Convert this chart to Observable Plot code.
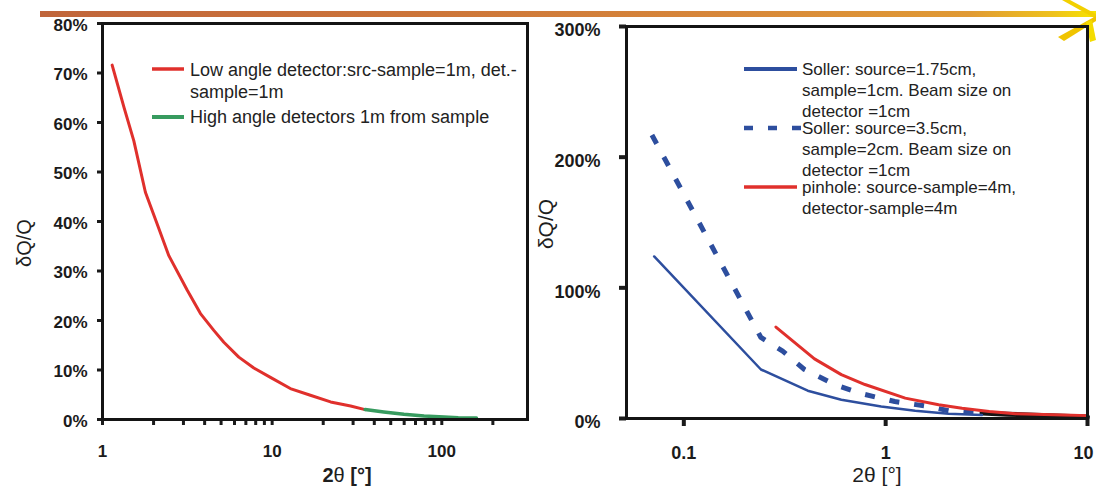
<!DOCTYPE html>
<html>
<head>
<meta charset="utf-8">
<script src="https://cdn.jsdelivr.net/npm/d3@7"></script>
<script src="https://cdn.jsdelivr.net/npm/@observablehq/plot@0.6"></script>
<style>
  html, body { margin: 0; padding: 0; background: #fff; }
  #page { position: relative; width: 1096px; height: 487px; overflow: hidden; background: #fff;
          font-family: "Liberation Sans", Arial, Helvetica, sans-serif; color: #1e1e1e; }
  .panel { position: absolute; top: 0; }
  .abs { position: absolute; white-space: nowrap; }
  .ytitle { transform: translate(-50%, -50%) rotate(-90deg); }
  .xtitle { transform: translate(-50%, -50%); line-height: 1.05; }
  .leg-text { position: absolute; white-space: nowrap; color: #222; }
  .leg-swatch { position: absolute; }
  #topbar { position: absolute; left: 40px; top: 11px; width: 1056px; height: 6px;
            background: linear-gradient(to right, #c0653b 0%, #cc7439 35%, #d7873a 65%, #e09a34 88%, #eec21c 96%, #f7e400 100%); }
</style>
</head>
<body>
<div id="page">
  <div id="topbar"></div>
  <svg class="abs" style="left:1052px;top:0" width="44" height="44" viewBox="0 0 44 44">
    <polygon points="10,0 18,0 44,14 44,19" fill="#f2d000"/>
    <polygon points="6,37 12,41 44,21 44,16" fill="#f0c400"/>
    <polygon points="34,22 40,20 44,40 38,42" fill="#f4dc00"/>
  </svg>
  <div id="left" class="panel" style="left:0"></div>
  <div id="right" class="panel" style="left:548px"></div>
</div>
<script>
// ---- Left panel: resolution of the 1 m instrument ----
const lowAngleTheta = [1.14, 1.34, 1.53, 1.79, 2.10, 2.46, 3.16, 3.78, 4.53, 5.19, 6.36, 7.80, 9.77, 12.8, 16.8, 22.1, 29.0, 35.3];
const lowAngleDQ    = [71.6, 63.0, 56.3, 45.9, 39.5, 33.1, 26.1, 21.4, 18.0, 15.6, 12.6, 10.4, 8.5, 6.25, 4.9, 3.55, 2.74, 2.0];
const highAngleTheta = [35.3, 45.5, 59.8, 78.6, 103, 125, 160];
const highAngleDQ    = [2.0, 1.53, 1.07, 0.73, 0.5, 0.35, 0.3];
const leftLegend = [
  ["Low angle detector:src-sample=1m, det.-", "sample=1m"],
  ["High angle detectors 1m from sample"]
];
const leftXTicks  = [1, 2, 3, 4, 5, 6, 7, 8, 9, 10, 20, 30, 40, 50, 60, 70, 80, 90, 100, 200];
const leftXLabels = [1, 10, 100];
const leftYTicks  = [0, 10, 20, 30, 40, 50, 60, 70, 80];

// ---- Right panel: small-angle resolution, Soller vs pinhole ----
const sollerTheta = [0.0713, 0.241, 0.411, 0.603, 0.95, 1.40, 2.05, 3.0];
const sollerDQ    = [124, 37.5, 21.3, 14.4, 9.2, 5.9, 3.6, 2.7];
const sollerWideTheta = [0.0695, 0.241, 0.309, 0.396, 0.559, 0.76, 1.11, 1.63, 2.05, 3.0];
const sollerWideDQ    = [217, 62, 51.5, 37.5, 26, 19, 13, 9.2, 5.9, 3.8];
const pinholeTheta = [0.286, 0.444, 0.603, 0.79, 1.25, 1.83, 2.39, 3.26, 4.4, 7.6, 10];
const pinholeDQ    = [70, 45.6, 33.6, 26, 15.6, 10.5, 7.9, 5.4, 3.6, 2.6, 2.2];
const tailTheta = [3.0, 4.0, 5.5, 7.5, 10];
const tailDQ    = [4.2, 3.3, 2.5, 1.8, 1.2];
const rightLegend = [
  ["Soller: source=1.75cm,", "sample=1cm. Beam size on", "detector =1cm"],
  ["Soller: source=3.5cm,", "sample=2cm. Beam size on", "detector =1cm"],
  ["pinhole: source-sample=4m,", "detector-sample=4m"]
];
const rightXTicks = [0.1, 1, 10];
const rightYTicks = [0, 100, 200, 300];

const RED = "#e0302c", GREEN = "#379b5f", BLUE = "#2d4e9e", INK = "#141414";
const FONT = '"Liberation Sans", Arial, Helvetica, sans-serif';

const rows = (xs, ys) => xs.map((x, i) => ({theta: x, dq: ys[i]}));
const pct = d => d + "%";
const blank = () => "";

const leftPlot = Plot.plot({
  width: 548, height: 487,
  marginLeft: 102, marginRight: 21, marginTop: 23, marginBottom: 68,
  style: {fontFamily: FONT, fontSize: "17px", fontWeight: "bold", color: "#1b1b1b", background: "transparent", overflow: "visible"},
  x: {type: "log", domain: [1, 320], label: null},
  y: {domain: [0, 80], label: null},
  marks: [
    Plot.axisX(leftXTicks, {tickSize: 6, strokeWidth: 3, tickFormat: blank, label: null}),
    Plot.axisX(leftXLabels, {tickSize: 0, tickPadding: 25, tickFormat: d => String(d), label: null}),
    Plot.axisY(leftYTicks, {tickSize: 5, strokeWidth: 3, tickFormat: blank, label: null}),
    Plot.axisY(leftYTicks, {tickSize: 0, tickPadding: 15, dy: 2, tickFormat: pct, label: null}),
    Plot.line(rows(lowAngleTheta, lowAngleDQ), {x: "theta", y: "dq", stroke: RED, strokeWidth: 3}),
    Plot.line(rows(highAngleTheta, highAngleDQ), {x: "theta", y: "dq", stroke: GREEN, strokeWidth: 3.5}),
    Plot.frame({stroke: INK, strokeWidth: 3})
  ]
});
document.getElementById("left").append(leftPlot);

const rightPlot = Plot.plot({
  width: 548, height: 487,
  marginLeft: 78, marginRight: 9, marginTop: 26, marginBottom: 69,
  style: {fontFamily: FONT, fontSize: "18px", fontWeight: "bold", color: "#1b1b1b", background: "transparent", overflow: "visible"},
  x: {type: "log", domain: [0.052, 10], label: null},
  y: {domain: [0, 300], label: null},
  marks: [
    Plot.axisX(rightXTicks, {tickSize: 8, strokeWidth: 4, tickFormat: blank, label: null}),
    Plot.axisX(rightXTicks.slice(0, -1), {tickSize: 0, tickPadding: 28, tickFormat: d => String(d), label: null}),
    Plot.axisX(rightXTicks.slice(-1), {tickSize: 0, tickPadding: 28, dx: -4, tickFormat: d => String(d), label: null}),
    Plot.axisY(rightYTicks, {tickSize: 7, strokeWidth: 4, tickFormat: blank, label: null}),
    Plot.axisY(rightYTicks, {tickSize: 0, tickPadding: 26, dy: 4, tickFormat: pct, label: null}),
    Plot.line(rows(tailTheta, tailDQ), {x: "theta", y: "dq", stroke: INK, strokeWidth: 5}),
    Plot.line(rows(sollerTheta, sollerDQ), {x: "theta", y: "dq", stroke: BLUE, strokeWidth: 2.5}),
    Plot.line(rows(sollerWideTheta, sollerWideDQ), {x: "theta", y: "dq", stroke: BLUE, strokeWidth: 5, strokeDasharray: "10,15", strokeLinecap: "butt"}),
    Plot.line(rows(pinholeTheta, pinholeDQ), {x: "theta", y: "dq", stroke: RED, strokeWidth: 3}),
    Plot.frame({stroke: INK, strokeWidth: 3})
  ]
});
document.getElementById("right").append(rightPlot);

// ---- titles and legends laid over the two panels ----
const page = document.getElementById("page");
function addDiv(cls, styleText, html) {
  const d = document.createElement("div");
  d.className = cls;
  d.style.cssText = styleText;
  d.innerHTML = html;
  page.append(d);
  return d;
}
addDiv("abs ytitle", "left:24px;top:243px;font-size:20px;", "&delta;Q/Q");
addDiv("abs ytitle", "left:546px;top:224px;font-size:21px;", "&delta;Q/Q");
addDiv("abs xtitle", "left:347px;top:475px;font-size:20px;", "<b>2</b>&theta; <b>[&deg;]</b>");
addDiv("abs xtitle", "left:877px;top:475px;font-size:21px;", "2&theta; [&deg;]");

function swatch(x0, x1, y, color, width, dash) {
  const s = document.createElementNS("http://www.w3.org/2000/svg", "svg");
  s.setAttribute("class", "leg-swatch");
  s.setAttribute("width", x1 - x0);
  s.setAttribute("height", 10);
  s.style.left = x0 + "px";
  s.style.top = (y - 5) + "px";
  const l = document.createElementNS("http://www.w3.org/2000/svg", "line");
  l.setAttribute("x1", 0); l.setAttribute("x2", x1 - x0);
  l.setAttribute("y1", 5); l.setAttribute("y2", 5);
  l.setAttribute("stroke", color);
  l.setAttribute("stroke-width", width);
  if (dash) l.setAttribute("stroke-dasharray", dash);
  s.append(l);
  page.append(s);
}
function legendItem(lines, textX, top, size, lh) {
  addDiv("leg-text", `left:${textX}px;top:${top}px;font-size:${size}px;line-height:${lh}px;`, lines.join("<br>"));
}

// left legend
swatch(152, 184, 69, RED, 3.5);
legendItem(leftLegend[0], 190, 59, 18, 22);
swatch(152, 184, 117, GREEN, 4);
legendItem(leftLegend[1], 190, 106, 18, 22);

// right legend
swatch(744, 797, 69, BLUE, 4);
legendItem(rightLegend[0], 802, 59, 17, 21);
swatch(744, 801, 128, BLUE, 4.5, "9,15");
legendItem(rightLegend[1], 802, 118, 17, 21);
swatch(744, 797, 187, RED, 3.5);
legendItem(rightLegend[2], 802, 177, 17, 21);
</script>
</body>
</html>
